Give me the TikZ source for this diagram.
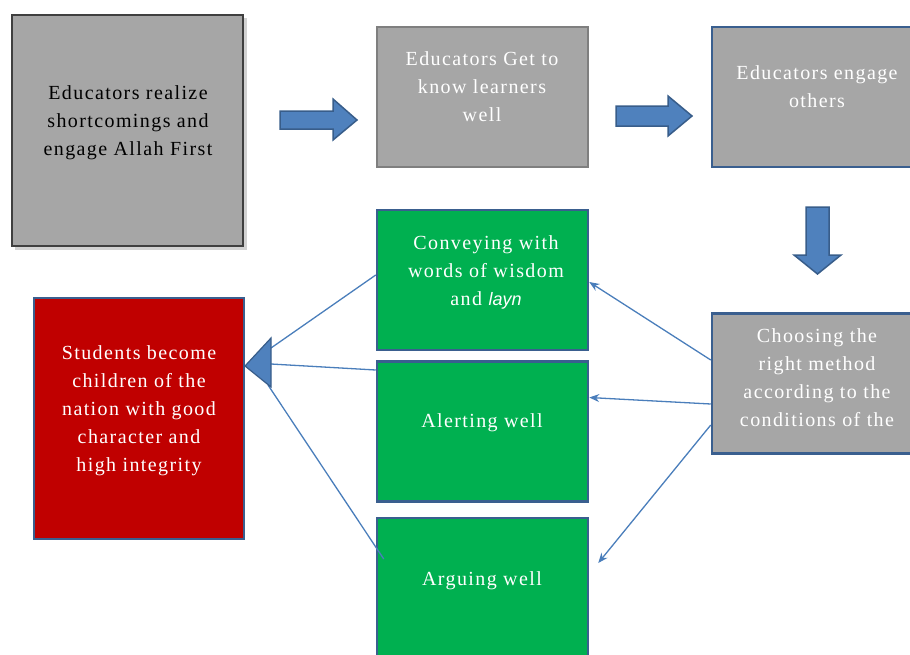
\documentclass[tikz,border=0pt]{standalone}
\usepackage{fontspec}
\setmainfont{Liberation Serif}[LetterSpace=7]
\newfontfamily\sansit{Liberation Sans}[LetterSpace=0]
\usetikzlibrary{calc,arrows.meta}
\definecolor{boxgray}{HTML}{A6A6A6}
\definecolor{darkedge}{HTML}{3F3F3F}
\definecolor{grayedge}{HTML}{7F7F7F}
\definecolor{blueedge}{HTML}{3A5F8F}
\definecolor{boxgreen}{HTML}{00B050}
\definecolor{boxred}{HTML}{C00000}
\definecolor{arrowfill}{HTML}{4F81BD}
\definecolor{arrowedge}{HTML}{385D8A}
\definecolor{linkblue}{HTML}{4A7EBB}
\tikzset{
  box/.style={rectangle, minimum width=211pt, minimum height=140pt, inner sep=0pt, line width=2pt},
  graybox/.style={box, fill=boxgray, draw=grayedge},
  bluegraybox/.style={box, fill=boxgray, draw=blueedge, line width=2.5pt},
  greenbox/.style={box, fill=boxgreen, draw=blueedge, line width=2.5pt},
  txt/.style={align=center, inner sep=0pt, font=\fontsize{20}{28}\selectfont, text=white},
  blockarrow/.style={fill=arrowfill, draw=arrowedge, line width=1.5pt, line join=miter},
  link/.style={draw=linkblue, line width=1.3pt},
  linkarrow/.style={link, -{Stealth[length=10pt,width=8pt]}}
}
\begin{document}
\begin{tikzpicture}[x=1pt,y=-1pt]
\useasboundingbox (0,0) rectangle (910,654);
\clip (0,0) rectangle (910,654);

% box 1 with shadow
\fill[black!35, opacity=0.5] (15,18) rectangle (247,250);
\node[box, minimum width=231pt, minimum height=231pt, fill=boxgray, draw=darkedge, line width=1.8pt] (b1) at (127.5,130.5) {};
\node[txt, text=black] (t1) at (128,123) {Educators realize\\shortcomings and\\engage Allah First};

% box 2
\node[graybox] (b2) at (482.5,97) {};
\node[txt] (t2) at (482,87) {Educators Get to\\know learners\\well};

% box 3
\node[bluegraybox] (b3) at (817.5,97) {};
\node[txt] (t3) at (817,87) {Educators engage\\others};

% choose box
\node[bluegraybox] (ch) at (817.5,383.5) {};
\node[txt] (tch) at (817,378) {Choosing the\\right method\\according to the\\conditions of the};

% green boxes
\node[greenbox] (g1) at (482.5,280) {};
\node[txt] (tg1) at (486,272) {Conveying with\\words of wisdom\\and {\sansit\itshape\fontsize{18}{28}\selectfont layn}};
\node[greenbox] (g2) at (482.5,431.5) {};
\node[txt] (tg2) at (482,423) {Alerting well};
\node[greenbox, minimum height=142pt] (g3) at (482.5,589) {};
\node[txt] (tg3) at (482,581) {Arguing well};

% red box
\node[box, minimum width=210pt, minimum height=241pt, fill=boxred, draw=blueedge, line width=2.5pt] (rd) at (139,418.5) {};
\node[txt] (trd) at (139,411) {Students become\\children of the\\nation with good\\character and\\high integrity};

% block arrows
\draw[blockarrow] (280,111) -- (333,111) -- (333,99) -- (357,120) -- (333,140) -- (333,129) -- (280,129) -- cycle;
\draw[blockarrow] (616,106) -- (668,106) -- (668,96) -- (692,116) -- (668,136) -- (668,126) -- (616,126) -- cycle;
\draw[blockarrow] (806,207) -- (829,207) -- (829,255) -- (841,255) -- (817.5,274) -- (794,255) -- (806,255) -- cycle;

% triangle head into red box
\coordinate (triA) at (271,348);
\coordinate (triB) at (271,364);
\coordinate (triC) at (268,385);
\draw[link] ($(g1.west)+(0,-5)$) -- (triA);
\draw[link] ($(g2.west)+(0,-61.5)$) -- (triB);
\draw[link] ($(g3.west)+(8,-30)$) -- (triC);
\draw[blockarrow, line width=1.2pt] (245,366) -- (271,338) -- (271,387) -- cycle;

% arrows from choose box
\draw[linkarrow] ($(ch.west)+(0,-23.5)$) -- ($(g1.east)+(0,2)$);
\draw[linkarrow] ($(ch.west)+(0,20.5)$) -- ($(g2.east)+(0,-34)$);
\draw[linkarrow] ($(ch.west)+(0,41.5)$) -- ($(g3.east)+(9,-26)$);
\end{tikzpicture}
\end{document}
